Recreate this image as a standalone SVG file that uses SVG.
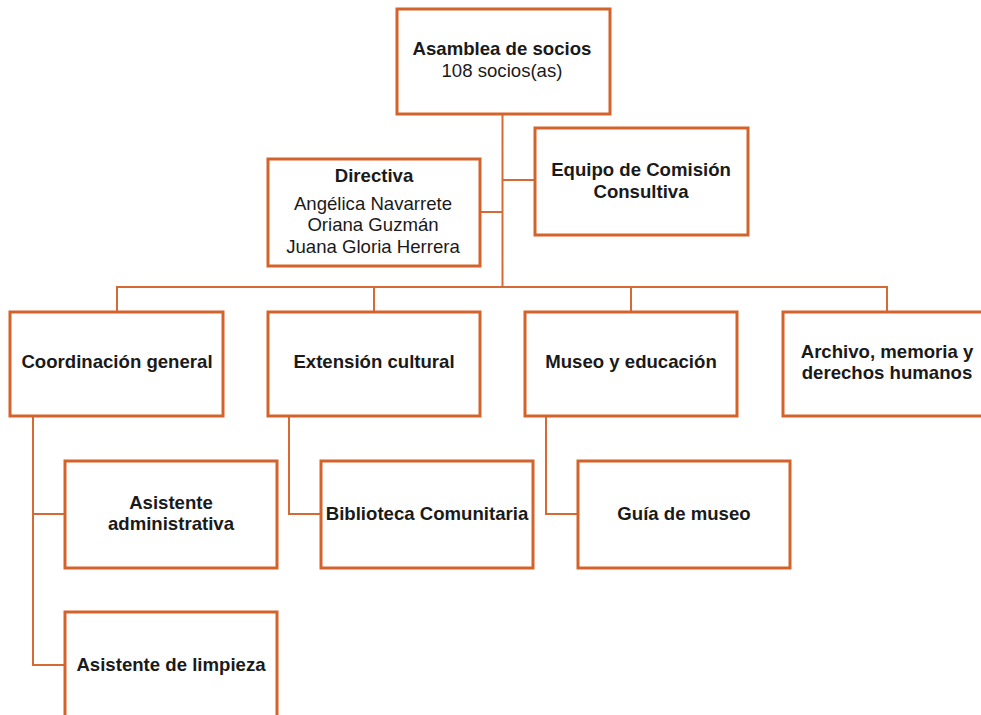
<svg xmlns="http://www.w3.org/2000/svg" width="981" height="715" viewBox="0 0 981 715">
<style>
.box{fill:#fff;stroke:#D4632B;stroke-width:3}
.con{fill:none;stroke:#D66A35;stroke-width:2}
text{font-family:"Liberation Sans",Arial,sans-serif;font-size:18.6px;fill:#1a1a1a;text-anchor:middle}
.b{font-weight:bold}
</style>
<rect width="981" height="715" fill="#fff"/>
<g id="connectors">
<path class="con" d="M502.5,114 V287"/>
<path class="con" d="M502.5,180 H535"/>
<path class="con" d="M480,212 H502.5"/>
<path class="con" d="M117,312 V287 H887 V312"/>
<path class="con" d="M374,287 V312"/>
<path class="con" d="M631,287 V312"/>
<path class="con" d="M33,416 V665 H65"/>
<path class="con" d="M33,514 H65"/>
<path class="con" d="M289,416 V514 H321"/>
<path class="con" d="M546,416 V514 H578"/>
</g>
<g id="asamblea">
<rect class="box" x="397" y="9" width="213" height="105"/>
<text x="502" y="55" class="b">Asamblea de socios</text>
<text x="502" y="77">108 socios(as)</text>
</g>
<g id="equipo">
<rect class="box" x="535" y="128" width="213" height="107"/>
<text x="641" y="176" class="b">Equipo de Comisión</text>
<text x="641" y="198" class="b">Consultiva</text>
</g>
<g id="directiva">
<rect class="box" x="268" y="159" width="212" height="107"/>
<text x="374" y="182" class="b">Directiva</text>
<text x="373" y="210">Angélica Navarrete</text>
<text x="373" y="231">Oriana Guzmán</text>
<text x="373" y="253">Juana Gloria Herrera</text>
</g>
<g id="coordinacion">
<rect class="box" x="10" y="312" width="213" height="104"/>
<text x="117" y="368" class="b">Coordinación general</text>
</g>
<g id="extension">
<rect class="box" x="268" y="312" width="212" height="104"/>
<text x="374" y="368" class="b">Extensión cultural</text>
</g>
<g id="museo">
<rect class="box" x="525" y="312" width="212" height="104"/>
<text x="631" y="368" class="b">Museo y educación</text>
</g>
<g id="archivo">
<rect class="box" x="783" y="312" width="213" height="104"/>
<text x="887" y="358" class="b">Archivo, memoria y</text>
<text x="887" y="379" class="b">derechos humanos</text>
</g>
<g id="admin">
<rect class="box" x="65" y="461" width="212" height="107"/>
<text x="171" y="509" class="b">Asistente</text>
<text x="171" y="530" class="b">administrativa</text>
</g>
<g id="limpieza">
<rect class="box" x="65" y="612" width="212" height="110"/>
<text x="171" y="671" class="b">Asistente de limpieza</text>
</g>
<g id="biblioteca">
<rect class="box" x="321" y="461" width="212" height="107"/>
<text x="427" y="520" class="b">Biblioteca Comunitaria</text>
</g>
<g id="guia">
<rect class="box" x="578" y="461" width="212" height="107"/>
<text x="684" y="520" class="b">Guía de museo</text>
</g>
</svg>
